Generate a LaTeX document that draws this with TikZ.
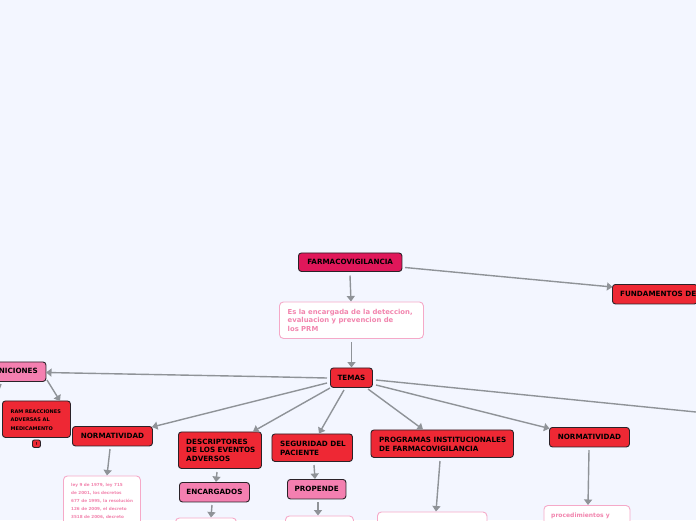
\documentclass[tikz,border=0pt]{standalone}
\usepackage{fontspec}
\setmainfont{DejaVu Sans}
\usetikzlibrary{arrows.meta}
\definecolor{bgc}{HTML}{F3F6FF}
\definecolor{redf}{HTML}{EE2834}
\definecolor{crim}{HTML}{E0175A}
\definecolor{pinkf}{HTML}{F47FB0}
\definecolor{pinkt}{HTML}{F285AE}
\definecolor{pinkl}{HTML}{F5A9C8}
\definecolor{edgec}{HTML}{8F9398}
\definecolor{edged}{HTML}{2A2228}
\tikzset{x=1pt,y=-1pt,
 boxa/.style={draw=edged,line width=.9pt,rounded corners=3pt,inner sep=0pt,anchor=north west,font=\bfseries\fontsize{7.2}{8.8}\selectfont,text=black},
 redbox/.style={boxa,fill=redf},
 crimbox/.style={boxa,fill=crim},
 pinkbox/.style={boxa,fill=pinkf},
 whitebox/.style={draw=pinkl,fill=white,line width=.9pt,rounded corners=4pt,inner sep=0pt,anchor=north west},
 lbl/.style={anchor=north west,inner sep=0pt,align=left,font=\bfseries\fontsize{7.2}{8.8}\selectfont,text=black},
 plbl/.style={anchor=north west,inner sep=0pt,align=left,font=\bfseries\fontsize{6}{8.2}\selectfont,text=pinkt},
 conn/.style={draw=edgec,line width=1.4pt,-{Triangle[length=5.5pt,width=8pt]}}}
\begin{document}
\begin{tikzpicture}
\useasboundingbox (0,0) rectangle (696,520);
\clip (0,0) rectangle (696,520);
\fill[bgc] (0,0) rectangle (696,520);
\node[crimbox,minimum width=103.5pt,minimum height=18.5pt,align=center] (farma) at (298,252.5) {FARMACOVIGILANCIA};
\node[whitebox,minimum width=144pt,minimum height=36.5pt] (def) at (279,301.5) {};
\node[plbl,font=\bfseries\fontsize{6.85}{8.5}\selectfont] (deft) at (287.5,309) {Es la encargada de la deteccion,\\evaluacion y prevencion de\\los PRM};
\node[redbox,minimum width=42pt,minimum height=19.5pt] (temas) at (330,367.5) {TEMAS};
\node[redbox,minimum width=85pt,minimum height=19.5pt] (fund) at (612,284) {};
\node[lbl] (fundt) at (620,290.5) {FUNDAMENTOS DE};
\node[pinkbox,minimum width=65.5pt,minimum height=19.5pt] (defs) at (-20,361.5) {};
\node[lbl,anchor=north east] (defst) at (38,368) {DEFINICIONES};
\node[redbox,minimum width=68pt,minimum height=36.5pt] (ram) at (2,400.5) {};
\node[lbl,font=\bfseries\fontsize{5}{8.5}\selectfont] (ramt) at (10.5,409.5) {RAM REACCIONES\\ADVERSAS AL\\MEDICAMENTO};
\node[redbox,minimum width=8pt,minimum height=7.5pt,rounded corners=2pt,font=\bfseries\fontsize{4}{4}\selectfont] (ramb) at (32,439.5) {!};
\node[redbox,minimum width=80pt,minimum height=19.5pt] (norm1) at (72,426) {NORMATIVIDAD};
\node[whitebox,minimum width=77pt,minimum height=60pt] (leyes) at (63,475.5) {};
\node[plbl,font=\bfseries\fontsize{4.15}{7.9}\selectfont] (leyest) at (71,483.5) {ley 9 de 1979, ley 715\\de 2001, los decretos\\677 de 1995, la resolución\\126 de 2009, el decreto\\3518 de 2006, decreto};
\node[redbox,minimum width=83pt,minimum height=36.5pt] (desc) at (178,431.5) {};
\node[lbl] (desct) at (186,438.5) {DESCRIPTORES\\DE LOS EVENTOS\\ADVERSOS};
\node[pinkbox,minimum width=70pt,minimum height=19.5pt] (enc) at (179,482) {ENCARGADOS};
\node[whitebox,minimum width=61pt,minimum height=30pt] (encw) at (175,517.5) {};
\node[redbox,minimum width=80.5pt,minimum height=27.5pt] (seg) at (271.5,433.5) {};
\node[lbl] (segt) at (280,441) {SEGURIDAD DEL\\PACIENTE};
\node[pinkbox,minimum width=58.5pt,minimum height=19.5pt] (prop) at (287,479) {PROPENDE};
\node[whitebox,minimum width=68pt,minimum height=30pt] (propw) at (285,515.5) {};
\node[redbox,minimum width=142.5pt,minimum height=27.5pt] (prog) at (370.5,429.5) {};
\node[lbl] (progt) at (379,437) {PROGRAMAS INSTITUCIONALES\\DE FARMACOVIGILANCIA};
\node[whitebox,minimum width=109.5pt,minimum height=30pt] (progw) at (377,511.5) {};
\node[redbox,minimum width=80pt,minimum height=19.5pt] (norm2) at (549,427) {NORMATIVIDAD};
\node[whitebox,minimum width=86pt,minimum height=40pt] (proc) at (543.5,505) {};
\node[plbl] (proct) at (551,512.5) {procedimientos y};
\coordinate (off) at (726,415);
\path[conn] (350,275.5) -- (351,301.5);
\path[conn] (405,267.5) -- (612.5,287);
\path[conn] (351.5,342) -- (351.5,367.5);
\path[conn] (327,378) -- (258,376.5) -- (46,372.5);
\path[conn] (376,380) -- (off);
\path[conn] (327,383) -- (152,427);
\path[conn] (330,388) -- (253,431.5);
\path[conn] (344,390) -- (319,433.5);
\path[conn] (368,389) -- (423,429.5);
\path[conn] (376,385) -- (549.5,428.5);
\path[conn] (47,380) -- (60,401);
\path[conn] (110,449) -- (107,475.5);
\path[conn] (217,472) -- (216,482);
\path[conn] (314,465) -- (315,479);
\path[conn] (212,505) -- (211,517.5);
\path[conn] (318,502) -- (318,515.5);
\path[conn] (440,461) -- (436,511.5);
\path[conn] (589,450) -- (588,505);
\draw[edgec,line width=1.4pt] (1,384) -- (-2,392);
\end{tikzpicture}
\end{document}
